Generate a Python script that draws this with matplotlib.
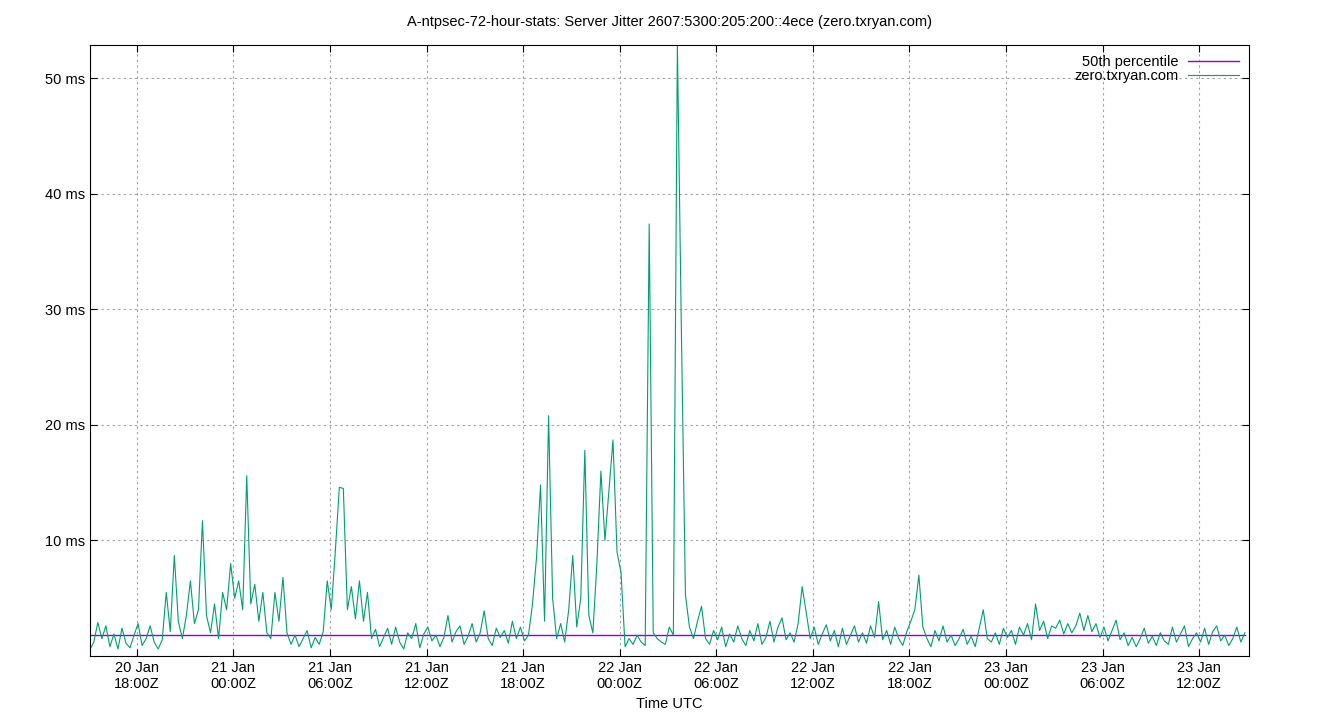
import numpy as np
import pandas as pd
import matplotlib
matplotlib.use("Agg")
import matplotlib.pyplot as plt
import matplotlib.dates as mdates
from matplotlib.ticker import FuncFormatter

plt.rcParams['font.family'] = ['Liberation Sans', 'DejaVu Sans']
plt.rcParams['font.size'] = 10.5

# jitter samples, every 15 minutes from 20 Jan 15:05Z (ms)
jitter = [
    0.5, 1.2, 2.9, 1.5, 2.6, 0.8, 1.9, 0.6, 2.4, 1.1, 0.7, 1.8, 2.8, 0.9, 1.5, 2.6,
    1.2, 0.6, 1.4, 5.5, 2.1, 8.7, 3.0, 1.5, 3.5, 6.5, 2.8, 4.0, 11.7, 3.5, 2.0, 4.5,
    1.5, 5.5, 4.0, 8.0, 5.0, 6.5, 4.0, 15.6, 4.5, 6.2, 3.0, 5.5, 2.0, 1.5, 5.5, 3.0,
    6.8, 2.0, 1.0, 1.8, 0.8, 1.5, 2.2, 0.7, 1.6, 1.0, 2.1, 6.5, 4.0, 9.0, 14.6, 14.5,
    4.0, 6.0, 3.2, 6.5, 3.0, 5.5, 1.5, 2.3, 0.8, 1.6, 2.4, 1.0, 2.5, 1.2, 0.6, 2.0,
    1.5, 2.8, 0.7, 1.9, 2.5, 1.3, 1.8, 0.8, 1.6, 3.5, 1.2, 2.1, 2.6, 1.0, 1.7, 2.8,
    1.2, 2.0, 3.9, 1.5, 0.9, 2.4, 1.6, 2.2, 1.1, 3.0, 1.5, 2.5, 1.3, 1.8, 4.5, 8.5,
    14.8, 3.0, 20.8, 5.0, 1.5, 2.8, 1.2, 4.0, 8.7, 2.5, 5.0, 17.8, 3.5, 2.0, 8.0, 16.0,
    10.0, 14.3, 18.7, 9.0, 7.2, 0.8, 1.5, 1.0, 1.8, 1.2, 0.9, 37.4, 2.0, 1.5, 1.2, 1.0,
    2.5, 1.8, 53.0, 28.0, 5.3, 2.5, 1.5, 3.0, 4.3, 1.5, 1.0, 2.2, 1.4, 2.5, 0.8, 1.9,
    1.2, 2.6, 1.5, 0.9, 2.2, 1.3, 2.8, 1.0, 1.6, 3.0, 1.2, 2.5, 3.3, 1.4, 2.0, 1.2,
    2.8, 6.0, 3.8, 1.5, 2.5, 1.0, 1.9, 2.7, 1.3, 2.2, 0.8, 2.4, 1.0, 1.8, 2.6, 1.2,
    2.0, 1.1, 2.6, 1.6, 4.7, 1.4, 2.2, 1.0, 2.5, 1.5, 0.9, 2.1, 3.0, 4.0, 7.0, 2.5,
    1.5, 0.8, 2.2, 1.3, 2.6, 1.2, 1.8, 0.9, 1.5, 2.3, 1.0, 1.7, 0.8, 2.4, 4.0, 1.5,
    1.2, 2.0, 1.0, 2.4, 1.6, 2.2, 1.0, 2.5, 1.8, 2.8, 1.4, 4.5, 2.2, 3.0, 1.5, 2.6,
    2.4, 3.1, 1.9, 2.8, 2.0, 2.6, 3.7, 2.2, 3.5, 2.1, 2.8, 1.6, 2.5, 1.3, 2.2, 3.1,
    1.4, 2.0, 0.9, 1.6, 0.8, 1.5, 2.4, 1.1, 1.7, 0.9, 2.0, 1.3, 1.0, 2.5, 1.2, 1.9,
    2.6, 0.8, 1.5, 2.0, 1.2, 2.4, 1.0, 2.1, 2.6, 1.3, 1.8, 0.9, 1.5, 2.5, 1.2, 2.0,
]
p50 = 1.8
times = pd.date_range("2024-01-20 15:05", periods=len(jitter), freq="15min")

fig = plt.figure(figsize=(13.4, 7.2), dpi=100)
ax = fig.add_axes([0.067, 0.089, 0.865, 0.8485])

ax.plot([times[0], times[-1]], [p50, p50], color="#9400d3", lw=1, label="50th percentile")
ax.plot(times, jitter, color="#009e73", lw=0.8, label="zero.txryan.com")

ax.set_xlim(pd.Timestamp("2024-01-20 15:05"), pd.Timestamp("2024-01-23 15:05"))
ax.set_ylim(0, 52.9)
ax.set_yticks([10, 20, 30, 40, 50])
ax.yaxis.set_major_formatter(FuncFormatter(lambda v, p: "%d ms" % v))
ax.xaxis.set_major_locator(mdates.HourLocator(byhour=[0, 6, 12, 18]))
ax.xaxis.set_major_formatter(mdates.DateFormatter("%d %b\n%H:%MZ"))
ax.tick_params(direction="in", top=True, right=True, length=5)
ax.grid(True, color="#a0a0a0", linestyle=(0, (2, 3)), lw=0.8)
ax.set_xlabel("Time UTC")
ax.set_title("A-ntpsec-72-hour-stats: Server Jitter 2607:5300:205:200::4ece (zero.txryan.com)",
             pad=14, fontsize=10.5)
ax.legend(loc="upper right", frameon=False, markerfirst=False, handlelength=3.5,
          borderaxespad=0.4, labelspacing=0.0, handletextpad=0.6, borderpad=0.3)

fig.savefig("out.png")
